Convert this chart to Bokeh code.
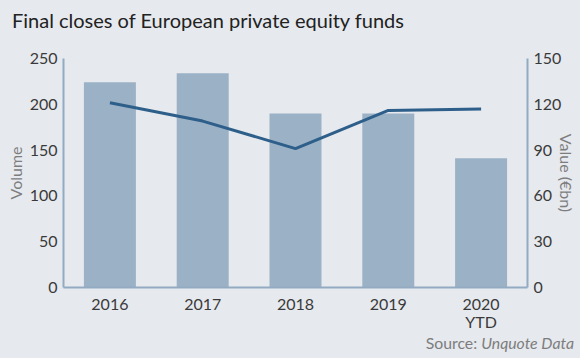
from bokeh.plotting import figure
from bokeh.layouts import column
from bokeh.models import (FactorRange, Range1d, LinearAxis, FixedTicker, Div,
                          GlobalInlineStyleSheet)
from bokeh.embed import file_html
from bokeh.resources import INLINE

years = ["2016", "2017", "2018", "2019", "2020\nYTD"]
volume = [224, 234, 190, 190, 141]
value_bn = [121, 109, 91, 116, 117]
left_ticks = [0, 50, 100, 150, 200, 250]
right_ticks = [0, 30, 60, 90, 120, 150]

BG = "#e6e9ee"
BAR = "#9bb1c5"
LINE = "#2e5f8a"
AXIS = "#93abc2"
TXT = "#3a3a3a"
GREY = "#7d7d7d"
FONT = "Lato"

title = Div(text="Final closes of European private equity funds", width=580,
            height=40, margin=0,
            styles={"font-family": FONT, "font-size": "20px", "color": "#222222",
                    "line-height": "40px", "padding-left": "12px",
                    "box-sizing": "border-box",
                    "white-space": "nowrap", "background-color": BG})

W, H = 580, 294
p = figure(width=W, height=H, x_range=FactorRange(*years, range_padding=0),
           y_range=Range1d(0, 250), output_backend="svg", toolbar_location=None,
           min_border_left=63, min_border_right=53, min_border_top=18,
           min_border_bottom=47, margin=0)
p.extra_y_ranges = {"right": Range1d(0, 150)}

p.background_fill_color = BG
p.border_fill_color = BG
p.outline_line_color = None
p.xgrid.visible = False
p.ygrid.visible = False

p.vbar(x=years, top=volume, width=0.56, color=BAR, line_color=None)
p.line(x=years, y=value_bn, y_range_name="right", line_color=LINE, line_width=3)

def style(ax):
    ax.axis_line_color = AXIS
    ax.axis_line_width = 2
    ax.major_tick_line_color = None
    ax.minor_tick_line_color = None
    ax.major_tick_out = 0
    ax.major_tick_in = 0
    ax.minor_tick_out = 0
    ax.minor_tick_in = 0
    ax.major_label_text_font = FONT
    ax.major_label_text_font_size = "16px"
    ax.major_label_text_color = TXT
    ax.major_label_text_line_height = 0.95
    ax.axis_label_text_font = FONT
    ax.axis_label_text_font_size = "16px"
    ax.axis_label_text_font_style = "normal"
    ax.axis_label_text_color = GREY
    ax.axis_label_text_line_height = 1.0

ya = p.yaxis[0]
ya.ticker = FixedTicker(ticks=left_ticks)
ya.major_label_standoff = 6
ya.axis_label = "Volume"
ya.axis_label_standoff = 2
style(ya)

ra = LinearAxis(y_range_name="right", ticker=FixedTicker(ticks=right_ticks),
                axis_label="Value (€bn)")
style(ra)
ra.major_label_standoff = 6
ra.axis_label_standoff = -7
p.add_layout(ra, "right")

xa = p.xaxis[0]
style(xa)
xa.major_label_standoff = 6

src = Div(text="Source: <i>Unquote Data</i>", width=574, height=24, margin=0,
          styles={"font-family": FONT, "font-size": "15.8px", "color": GREY,
                  "text-align": "right", "line-height": "18px",
                  "white-space": "nowrap", "background-color": BG})

layout = column(title, p, src, spacing=0,
                stylesheets=[GlobalInlineStyleSheet(css="body{background:%s;}" % BG)])

open("out.html", "w").write(file_html(layout, INLINE))
